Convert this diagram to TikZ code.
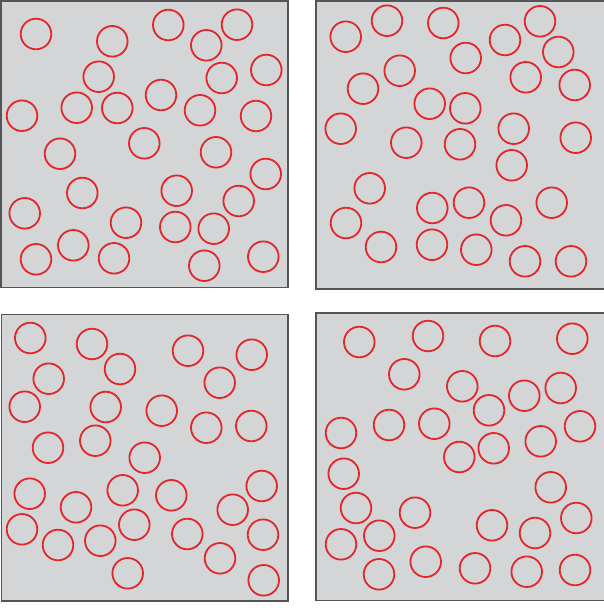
\documentclass[tikz,border=0pt]{standalone}
\definecolor{panelgray}{RGB}{212,213,215}
\definecolor{panelborder}{RGB}{85,85,85}
\definecolor{ringred}{RGB}{228,38,42}
\begin{document}
\begin{tikzpicture}[x=1pt,y=-1pt,
  panel/.style={fill=panelgray,draw=panelborder,line width=1.2pt},
  ring/.style={draw=ringred,line width=1.8pt}]
\useasboundingbox (0,0) rectangle (603,608);
% panels
\draw[panel] (1,1) rectangle (288,287.5);
\draw[panel] (316,1) rectangle (605,289);
\draw[panel] (1.5,314.5) rectangle (288,601);
\draw[panel] (316,313) rectangle (605,600.5);
% top-left
\foreach \x/\y in {36/34, 112.3/41.3, 168.3/25, 237/24.7, 206.3/45.3, 98.7/76.7, 221.7/78, 266.3/70,
  22/115.7, 76.7/107.7, 117.3/108, 161/95, 200/110.3, 256/116, 60/153.7, 144.3/143.3, 216/152.3,
  265.7/174, 82.3/193, 176.7/190.7, 238.7/201, 24.7/213.3, 126/222.7, 175.3/227, 213.7/228.7,
  73.3/245.3, 36/259.3, 114/258.3, 204.3/265.7, 263.3/256.7}
  \draw[ring] (\x,\y) circle[radius=15.3];
% top-right
\foreach \x/\y in {345.7/36.7, 387/20.7, 443.3/23, 540/21.3, 505/40, 558.3/52, 465.7/58, 399.7/70.7,
  363/88.7, 525.7/77.3, 574.7/85, 429.7/103.7, 465.3/108.3, 340.7/128.7, 406.3/142.7, 460/144.3,
  513.7/128.7, 575.7/137.7, 511.7/165.3, 369.7/188.3, 469/202.7, 432.3/208, 551.7/202.7, 346/223,
  506/220.3, 381/247, 432/244.7, 476.3/249.7, 525/261.3, 571/261.3}
  \draw[ring] (\x,\y) circle[radius=15.3];
% bottom-left
\foreach \x/\y in {30.3/338, 92/344, 188/350.7, 251.7/354.7, 48.7/378.7, 120/369, 219.7/382.7,
  24.7/406.7, 105.7/407, 161.7/410.7, 206.3/427.7, 251.3/426, 48/447.7, 95.3/440.7, 144.7/457.7,
  29.7/493.7, 122.7/490.3, 171.3/495.3, 261.7/486, 76/507.3, 232.7/509.7, 134.3/524.7, 22/529.3,
  58/545, 100.3/540.7, 187.3/534, 263/534.7, 220/558.3, 127.7/573.3, 263.7/580.3}
  \draw[ring] (\x,\y) circle[radius=15.3];
% bottom-right
\foreach \x/\y in {359.3/342, 428/336, 495/341, 572.3/338.7, 404.3/374.3, 462.3/386.3, 524.3/395.7,
  560.7/388, 489/410.3, 389/425, 434.3/423.7, 341/433, 580/426.3, 540.7/441.3, 493.7/448.3,
  459.3/457, 343.7/473.7, 550.7/487.3, 356/508, 415/512.7, 576.3/518, 492/525.3, 535/533,
  379.3/535.7, 341/544.3, 425.7/561.7, 475/568.3, 526.7/571.7, 575/570, 379/574.3}
  \draw[ring] (\x,\y) circle[radius=15.3];
\end{tikzpicture}
\end{document}
